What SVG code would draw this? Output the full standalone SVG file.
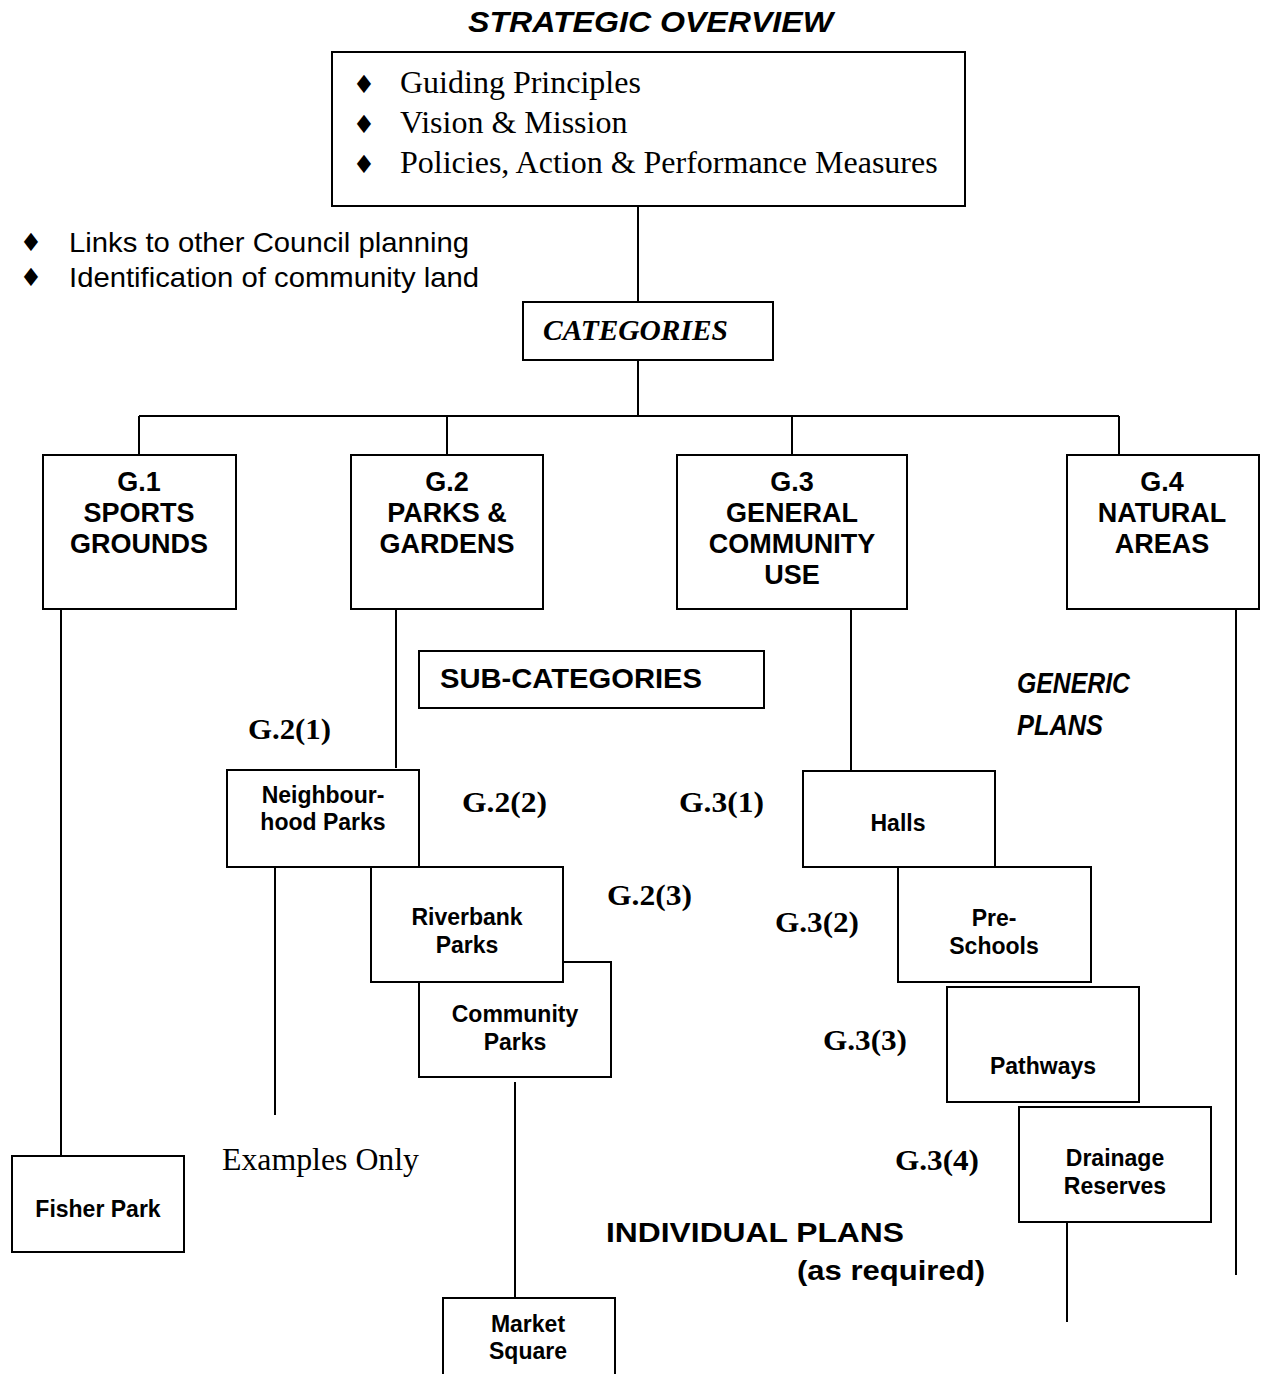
<svg xmlns="http://www.w3.org/2000/svg" width="1261" height="1374" viewBox="0 0 1261 1374">
<style>
.box{fill:#fff;stroke:#000;stroke-width:2}
.ln{stroke:#000;stroke-width:2;fill:none}
.sans{font-family:"Liberation Sans",Arial,sans-serif;fill:#000}
.serif{font-family:"Liberation Serif","Times New Roman",serif;fill:#000}
.b{font-weight:bold}
.i{font-style:italic}
.cat{font-family:"Liberation Sans",Arial,sans-serif;font-weight:bold;font-size:27px;text-anchor:middle}
.node{font-family:"Liberation Sans",Arial,sans-serif;font-weight:bold;font-size:23px;text-anchor:middle}
.code{font-family:"Liberation Serif","Times New Roman",serif;font-weight:bold;font-size:30px}
.bul{font-family:"DejaVu Sans",sans-serif;font-size:25px;text-anchor:middle}
</style>
<rect width="1261" height="1374" fill="#fff"/>

<text class="sans b i" x="468" y="32" font-size="30" textLength="365" lengthAdjust="spacingAndGlyphs">STRATEGIC OVERVIEW</text>

<g id="connectors">
<line class="ln" x1="638" y1="206" x2="638" y2="302"/>
<line class="ln" x1="638" y1="360" x2="638" y2="416"/>
<line class="ln" x1="139" y1="416" x2="1119" y2="416"/>
<line class="ln" x1="139" y1="416" x2="139" y2="455"/>
<line class="ln" x1="447" y1="416" x2="447" y2="455"/>
<line class="ln" x1="792" y1="416" x2="792" y2="455"/>
<line class="ln" x1="1119" y1="416" x2="1119" y2="455"/>
<line class="ln" x1="61" y1="609" x2="61" y2="1156"/>
<line class="ln" x1="396" y1="602" x2="396" y2="768"/>
<line class="ln" x1="851" y1="602" x2="851" y2="771"/>
<line class="ln" x1="1236" y1="602" x2="1236" y2="1275"/>
<line class="ln" x1="275" y1="867" x2="275" y2="1115"/>
<line class="ln" x1="515" y1="1082" x2="515" y2="1298"/>
<line class="ln" x1="1067" y1="1222" x2="1067" y2="1322"/>
</g>

<g id="overview">
<rect class="box" x="332" y="52" width="633" height="154"/>
<text class="bul" x="364" y="93">♦</text>
<text class="bul" x="364" y="133">♦</text>
<text class="bul" x="364" y="173">♦</text>
<text class="serif" x="400" y="93" font-size="32">Guiding Principles</text>
<text class="serif" x="400" y="133" font-size="32">Vision &amp; Mission</text>
<text class="serif" x="400" y="173" font-size="32">Policies, Action &amp; Performance Measures</text>
</g>

<g id="links">
<text class="bul" x="31" y="251">♦</text>
<text class="bul" x="31" y="286">♦</text>
<text class="sans" x="69" y="252" font-size="28" textLength="400" lengthAdjust="spacingAndGlyphs">Links to other Council planning</text>
<text class="sans" x="69" y="287" font-size="28" textLength="410" lengthAdjust="spacingAndGlyphs">Identification of community land</text>
</g>

<g id="categories">
<rect class="box" x="523" y="302" width="250" height="58"/>
<text class="serif b i" x="543" y="340" font-size="29" textLength="185" lengthAdjust="spacingAndGlyphs">CATEGORIES</text>
</g>

<g id="g1">
<rect class="box" x="43" y="455" width="193" height="154"/>
<text class="cat" x="139" y="491">G.1</text>
<text class="cat" x="139" y="522">SPORTS</text>
<text class="cat" x="139" y="553">GROUNDS</text>
</g>
<g id="g2">
<rect class="box" x="351" y="455" width="192" height="154"/>
<text class="cat" x="447" y="491">G.2</text>
<text class="cat" x="447" y="522">PARKS &amp;</text>
<text class="cat" x="447" y="553">GARDENS</text>
</g>
<g id="g3">
<rect class="box" x="677" y="455" width="230" height="154"/>
<text class="cat" x="792" y="491">G.3</text>
<text class="cat" x="792" y="522">GENERAL</text>
<text class="cat" x="792" y="553">COMMUNITY</text>
<text class="cat" x="792" y="584">USE</text>
</g>
<g id="g4">
<rect class="box" x="1067" y="455" width="192" height="154"/>
<text class="cat" x="1162" y="491">G.4</text>
<text class="cat" x="1162" y="522">NATURAL</text>
<text class="cat" x="1162" y="553">AREAS</text>
</g>

<g id="subcategories">
<rect class="box" x="419" y="651" width="345" height="57"/>
<text class="sans b" x="440" y="688" font-size="28" textLength="262" lengthAdjust="spacingAndGlyphs">SUB-CATEGORIES</text>
</g>

<g id="generic">
<text x="1017" y="693" font-family="'Liberation Sans Narrow','Arial Narrow','Liberation Sans',sans-serif" font-weight="bold" font-style="italic" font-size="29" textLength="113" lengthAdjust="spacingAndGlyphs">GENERIC</text>
<text x="1017" y="735" font-family="'Liberation Sans Narrow','Arial Narrow','Liberation Sans',sans-serif" font-weight="bold" font-style="italic" font-size="29" textLength="86" lengthAdjust="spacingAndGlyphs">PLANS</text>
</g>

<g id="codes">
<text class="code" x="248" y="739" textLength="83" lengthAdjust="spacingAndGlyphs">G.2(1)</text>
<text class="code" x="462" y="812" textLength="85" lengthAdjust="spacingAndGlyphs">G.2(2)</text>
<text class="code" x="679" y="812" textLength="85" lengthAdjust="spacingAndGlyphs">G.3(1)</text>
<text class="code" x="607" y="905" textLength="85" lengthAdjust="spacingAndGlyphs">G.2(3)</text>
<text class="code" x="775" y="932" textLength="84" lengthAdjust="spacingAndGlyphs">G.3(2)</text>
<text class="code" x="823" y="1050" textLength="84" lengthAdjust="spacingAndGlyphs">G.3(3)</text>
<text class="code" x="895" y="1170" textLength="84" lengthAdjust="spacingAndGlyphs">G.3(4)</text>
</g>

<g id="neighbourhood">
<rect class="box" x="227" y="770" width="192" height="97"/>
<text class="node" x="323" y="803">Neighbour-</text>
<text class="node" x="323" y="830">hood Parks</text>
</g>
<g id="community">
<rect class="box" x="419" y="962" width="192" height="115"/>
<text class="node" x="515" y="1022">Community</text>
<text class="node" x="515" y="1050">Parks</text>
</g>
<g id="riverbank">
<rect class="box" x="371" y="867" width="192" height="115"/>
<text class="node" x="467" y="925">Riverbank</text>
<text class="node" x="467" y="953">Parks</text>
</g>

<g id="halls">
<rect class="box" x="803" y="771" width="192" height="96"/>
<text class="node" x="898" y="831">Halls</text>
</g>
<g id="preschools">
<rect class="box" x="898" y="867" width="193" height="115"/>
<text class="node" x="994" y="926">Pre-</text>
<text class="node" x="994" y="954">Schools</text>
</g>
<g id="pathways">
<rect class="box" x="947" y="987" width="192" height="115"/>
<text class="node" x="1043" y="1074">Pathways</text>
</g>
<g id="drainage">
<rect class="box" x="1019" y="1107" width="192" height="115"/>
<text class="node" x="1115" y="1166">Drainage</text>
<text class="node" x="1115" y="1194">Reserves</text>
</g>

<g id="fisher">
<rect class="box" x="12" y="1156" width="172" height="96"/>
<text class="node" x="98" y="1217">Fisher Park</text>
</g>

<g id="market">
<path class="ln" d="M443,1376 V1298 H615 V1376"/>
<text class="node" x="528" y="1332">Market</text>
<text class="node" x="528" y="1359">Square</text>
</g>

<text class="serif" x="222" y="1170" font-size="31" textLength="197" lengthAdjust="spacingAndGlyphs">Examples Only</text>

<g id="individual">
<text class="sans b" x="606" y="1242" font-size="28" textLength="298" lengthAdjust="spacingAndGlyphs">INDIVIDUAL PLANS</text>
<text class="sans b" x="797" y="1280" font-size="28" textLength="188" lengthAdjust="spacingAndGlyphs">(as required)</text>
</g>
</svg>
